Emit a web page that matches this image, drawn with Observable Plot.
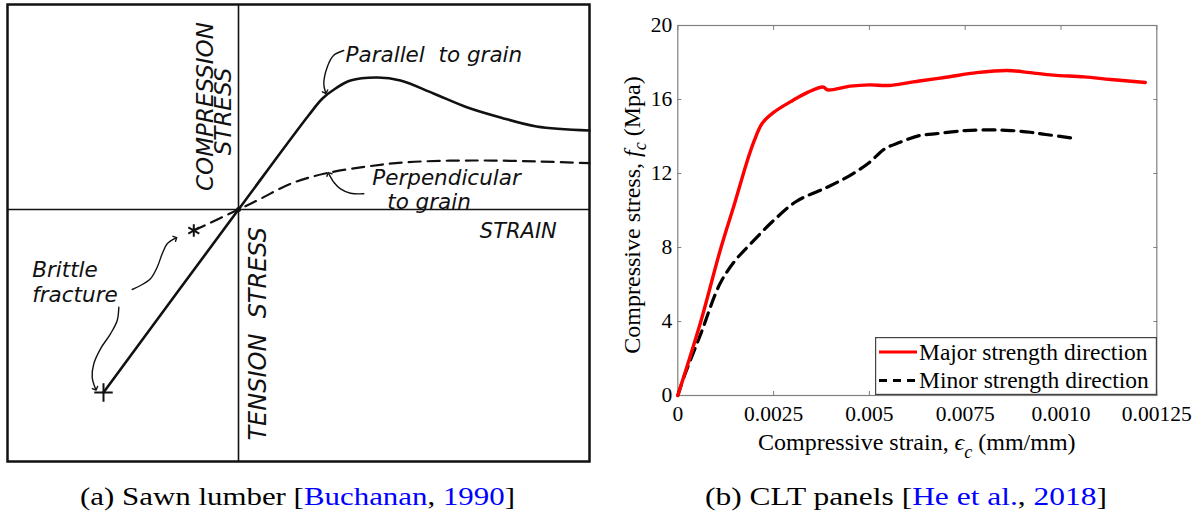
<!DOCTYPE html>
<html><head><meta charset="utf-8">
<script src="https://cdn.jsdelivr.net/npm/d3@7"></script>
<script src="https://cdn.jsdelivr.net/npm/@observablehq/plot@0.6"></script>
<style>
html,body{margin:0;padding:0;background:#fff;}
#fig{position:relative;width:1201px;height:519px;overflow:hidden;background:#fff;}
#panelA{position:absolute;left:0;top:0;}
#panelB{position:absolute;left:600px;top:0;}
#legend{position:absolute;left:875px;top:337px;}
#captions{position:absolute;left:0;top:470px;}
</style></head><body>
<div id="fig"><div id="panelA"></div><div id="panelB"></div><svg id="legend" width="282" height="58"></svg><svg id="captions" width="1201" height="49"></svg></div>
<script>
// ---------- Panel (a): sawn lumber sketch (arbitrary strain / stress units) ----------
const parallelStrain = [-1.35, 0, 0.70, 0.84, 0.97, 1.12, 1.39, 1.62, 1.95, 2.29, 2.62, 2.98, 3.51];
const parallelStress = [-1.83, 0, 0.94, 1.11, 1.21, 1.29, 1.32, 1.29, 1.16, 1.02, 0.92, 0.83, 0.79];
const perpStrain = [-0.447, 0, 0.22, 0.52, 0.853, 1.287, 1.687, 2.353, 3.0, 3.51];
const perpStress = [-0.21, 0, 0.107, 0.257, 0.357, 0.43, 0.473, 0.49, 0.48, 0.463];
const fractureStrain = [-0.447, -1.35];
const fractureStress = [-0.21, -1.83];
const leaderId = [0,0,0,0,0, 1,1,1,1,1, 2,2,2,2,2,2,2, 3,3,3,3,3,3,3];
const leaderStrain = [1.053,0.95,0.887,0.853,0.87, 1.253,1.12,1.02,0.953,0.903,
  -1.063,-0.98,-0.88,-0.813,-0.763,-0.713,-0.63, -1.197,-1.213,-1.28,-1.38,-1.447,-1.463,-1.43];
const leaderStress = [1.59,1.54,1.423,1.257,1.173, 0.157,0.163,0.207,0.273,0.357,
  -0.80,-0.76,-0.693,-0.577,-0.443,-0.343,-0.287, -0.977,-1.11,-1.243,-1.393,-1.543,-1.677,-1.793];
const noteText = ["Parallel  to grain", "Perpendicular", "to grain", "Brittle", "fracture"];
const noteStrain = [1.07, 1.337, 1.487, -2.063, -2.063];
const noteStress = [1.54, 0.31, 0.075, -0.61, -0.86];
const strainNote = ["STRAIN"];
const strainNoteStrain = [2.413];
const strainNoteStress = [-0.217];
const axisNoteText = ["COMPRESSION", "STRESS"];
const axisNoteStrain = [-0.33, -0.147];
const axisNoteStress = [1.03, 0.98];
const tensionNote = ["TENSION  STRESS"];
const tensionNoteStrain = [0.203];
const tensionNoteStress = [-1.243];
const sketchStrainDomain = [-2.31, 3.51];
const sketchStressDomain = [-2.52, 2.05];

// ---------- Panel (b): CLT panels ----------
const majorStrain = [0, 0.0006, 0.0011, 0.0015, 0.0018, 0.0020, 0.0022, 0.0025, 0.0030, 0.0034, 0.0038, 0.0039, 0.0045, 0.0050, 0.0055, 0.0060, 0.0063, 0.0070, 0.0078, 0.0086, 0.0092, 0.0098, 0.0106, 0.0113, 0.0122];
const majorStress = [0, 4.0, 7.8, 10.5, 12.6, 13.8, 14.7, 15.3, 15.95, 16.4, 16.67, 16.52, 16.72, 16.79, 16.76, 16.9, 17.0, 17.2, 17.45, 17.57, 17.45, 17.32, 17.22, 17.08, 16.92];
const minorStrain = [0, 0.00016, 0.0006, 0.0011, 0.0015, 0.0019, 0.0025, 0.0031, 0.0039, 0.0045, 0.0050, 0.0054, 0.0058, 0.0063, 0.0067, 0.0075, 0.0082, 0.0087, 0.0092, 0.0096, 0.01025];
const minorStress = [0, 1.0, 3.33, 6.04, 7.3, 8.2, 9.46, 10.5, 11.26, 11.9, 12.6, 13.33, 13.69, 14.05, 14.14, 14.32, 14.36, 14.32, 14.23, 14.11, 13.93];
const strainTicks = [0, 0.0025, 0.005, 0.0075, 0.01, 0.0125];
const strainTickLabels = ["0", "0.0025", "0.005", "0.0075", "0.0010", "0.00125"];
const stressTicks = [0, 4, 8, 12, 16, 20];
const seriesNames = ["Major strength direction", "Minor strength direction"];
const seriesColors = ["#ff0000", "#000000"];

const ink = "#111";
const leaderIdx = d3.range(leaderId.length);
const par = d3.range(parallelStrain.length);
const perp = d3.range(perpStrain.length);
const sketchFont = {fontFamily: "DejaVu Sans", fontStyle: "italic", fill: ink};

const svgA = Plot.plot({
  width: 600, height: 470,
  marginLeft: 7, marginRight: 11, marginTop: 4, marginBottom: 9,
  x: {domain: sketchStrainDomain, axis: null},
  y: {domain: sketchStressDomain, axis: null},
  style: {background: "#fff", color: ink},
  marks: [
    Plot.ruleX([0], {stroke: ink, strokeWidth: 1.6}),
    Plot.ruleY([0], {stroke: ink, strokeWidth: 1.6}),
    Plot.line(par, {x: i => parallelStrain[i], y: i => parallelStress[i], curve: "catmull-rom", stroke: ink, strokeWidth: 2.6}),
    Plot.line(perp, {x: i => perpStrain[i], y: i => perpStress[i], curve: "catmull-rom", stroke: ink, strokeWidth: 2.2, strokeDasharray: "12,7"}),
    Plot.dot([1], {x: i => perpStrain[i], y: i => perpStress[i], r: 2.5, fill: ink}),
    Plot.dot([0], {x: i => fractureStrain[i], y: i => fractureStress[i], symbol: "asterisk", r: 6, stroke: ink, strokeWidth: 2}),
    Plot.dot([1], {x: i => fractureStrain[i], y: i => fractureStress[i], symbol: "plus", r: 6, stroke: ink, strokeWidth: 2}),
    Plot.line(leaderIdx, {x: i => leaderStrain[i], y: i => leaderStress[i], z: i => leaderId[i], curve: "catmull-rom", stroke: ink, strokeWidth: 1.4, markerEnd: "arrow"}),
    Plot.text(d3.range(noteText.length), {x: i => noteStrain[i], y: i => noteStress[i], text: i => noteText[i], textAnchor: "start", lineAnchor: "middle", fontSize: 21.5, ...sketchFont}),
    Plot.text(d3.range(strainNote.length), {x: i => strainNoteStrain[i], y: i => strainNoteStress[i], text: i => strainNote[i], textAnchor: "start", lineAnchor: "middle", fontSize: 21, ...sketchFont}),
    Plot.text(d3.range(axisNoteText.length), {x: i => axisNoteStrain[i], y: i => axisNoteStress[i], text: i => axisNoteText[i], rotate: -90, textAnchor: "middle", lineAnchor: "middle", fontSize: 23, ...sketchFont}),
    Plot.text(d3.range(tensionNote.length), {x: i => tensionNoteStrain[i], y: i => tensionNoteStress[i], text: i => tensionNote[i], rotate: -90, textAnchor: "middle", lineAnchor: "middle", fontSize: 24, ...sketchFont}),
    Plot.frame({stroke: ink, strokeWidth: 2.5})
  ]
});
document.getElementById("panelA").appendChild(svgA);

const maj = d3.range(majorStrain.length);
const minr = d3.range(minorStrain.length);
const axisGray = "#808080";
const svgB = Plot.plot({
  width: 601, height: 470,
  marginLeft: 77.3, marginRight: 44.7, marginTop: 25, marginBottom: 75,
  x: {domain: [strainTicks[0], strainTicks[strainTicks.length - 1]]},
  y: {domain: [stressTicks[0], stressTicks[stressTicks.length - 1]]},
  style: {background: "#fff", color: "#000", fontFamily: "Liberation Serif", fontSize: "21.5px"},
  marks: [
    Plot.axisX({ticks: strainTicks, tickSize: 0, tickPadding: 10, tickFormat: d => strainTickLabels[strainTicks.indexOf(d)], label: null}),
    Plot.axisX({anchor: "bottom", ticks: strainTicks, tickSize: -4, tickFormat: () => "", label: null, stroke: axisGray}),
    Plot.axisX({anchor: "top", ticks: strainTicks, tickSize: -4, tickFormat: () => "", label: null, stroke: axisGray}),
    Plot.axisY({ticks: stressTicks, tickSize: 0, tickPadding: 5.5, label: null}),
    Plot.axisY({anchor: "left", ticks: stressTicks, tickSize: -4, tickFormat: () => "", label: null, stroke: axisGray}),
    Plot.axisY({anchor: "right", ticks: stressTicks, tickSize: -4, tickFormat: () => "", label: null, stroke: axisGray}),
    Plot.frame({stroke: axisGray, strokeWidth: 1.2}),
    Plot.line(minr, {x: i => minorStrain[i], y: i => minorStress[i], stroke: seriesColors[1], strokeWidth: 3.2, strokeDasharray: "12,7", curve: "catmull-rom"}),
    Plot.line(maj, {x: i => majorStrain[i], y: i => majorStress[i], stroke: seriesColors[0], strokeWidth: 3.4, curve: "catmull-rom"})
  ]
});
document.getElementById("panelB").appendChild(svgB);

// axis titles with italic symbols and subscripts
const yl = d3.select(svgB).append("text")
  .attr("transform", "translate(40,215) rotate(-90)")
  .attr("text-anchor", "middle")
  .attr("font-family", "Liberation Serif").attr("font-size", 24).attr("fill", "#000");
yl.append("tspan").text("Compressive stress, ");
yl.append("tspan").attr("font-style", "italic").text("f");
yl.append("tspan").attr("font-style", "italic").attr("font-size", 18).attr("dy", 6).text("c");
yl.append("tspan").attr("dy", -6).text(" (Mpa)");
const xl = d3.select(svgB).append("text")
  .attr("transform", "translate(316.8,450)")
  .attr("text-anchor", "middle")
  .attr("font-family", "Liberation Serif").attr("font-size", 24).attr("fill", "#000");
xl.append("tspan").text("Compressive strain, ");
xl.append("tspan").attr("font-style", "italic").text("\u03F5");
xl.append("tspan").attr("font-style", "italic").attr("font-size", 18).attr("dy", 8).text("c");
xl.append("tspan").attr("dy", -8).text(" (mm/mm)");

// legend
const lg = d3.select("#legend");
lg.append("rect").attr("x", 0.6).attr("y", 0.6).attr("width", 280.8).attr("height", 56.8)
  .attr("fill", "#fff").attr("stroke", "#444").attr("stroke-width", 1.2);
seriesNames.forEach((name, i) => {
  const cy = 15 + i * 28.5;
  lg.append("line").attr("x1", 4).attr("x2", 42).attr("y1", cy).attr("y2", cy)
    .attr("stroke", seriesColors[i]).attr("stroke-width", 3.2)
    .attr("stroke-dasharray", i === 1 ? "8,6" : null);
  lg.append("text").attr("x", 44).attr("y", cy + 7.5)
    .attr("font-family", "Liberation Serif").attr("font-size", 23.5).attr("fill", "#000").text(name);
});

// captions
const caps = [
  {parts: [["(a) Sawn lumber [", "#000"], ["Buchanan", "#0000ff"], [", ", "#000"], ["1990", "#0000ff"], ["]", "#000"]], x: 80, w: 435},
  {parts: [["(b) CLT panels [", "#000"], ["He et al.", "#0000ff"], [", ", "#000"], ["2018", "#0000ff"], ["]", "#000"]], x: 705, w: 402}
];
const cs = d3.select("#captions");
caps.forEach(c => {
  const t = cs.append("text").attr("x", c.x).attr("y", 35)
    .attr("font-family", "Liberation Serif").attr("font-size", 25)
    .attr("textLength", c.w).attr("lengthAdjust", "spacingAndGlyphs")
    .attr("xml:space", "preserve").style("white-space", "pre");
  c.parts.forEach(([s, col]) => t.append("tspan").attr("fill", col).text(s));
});
</script></body></html>
